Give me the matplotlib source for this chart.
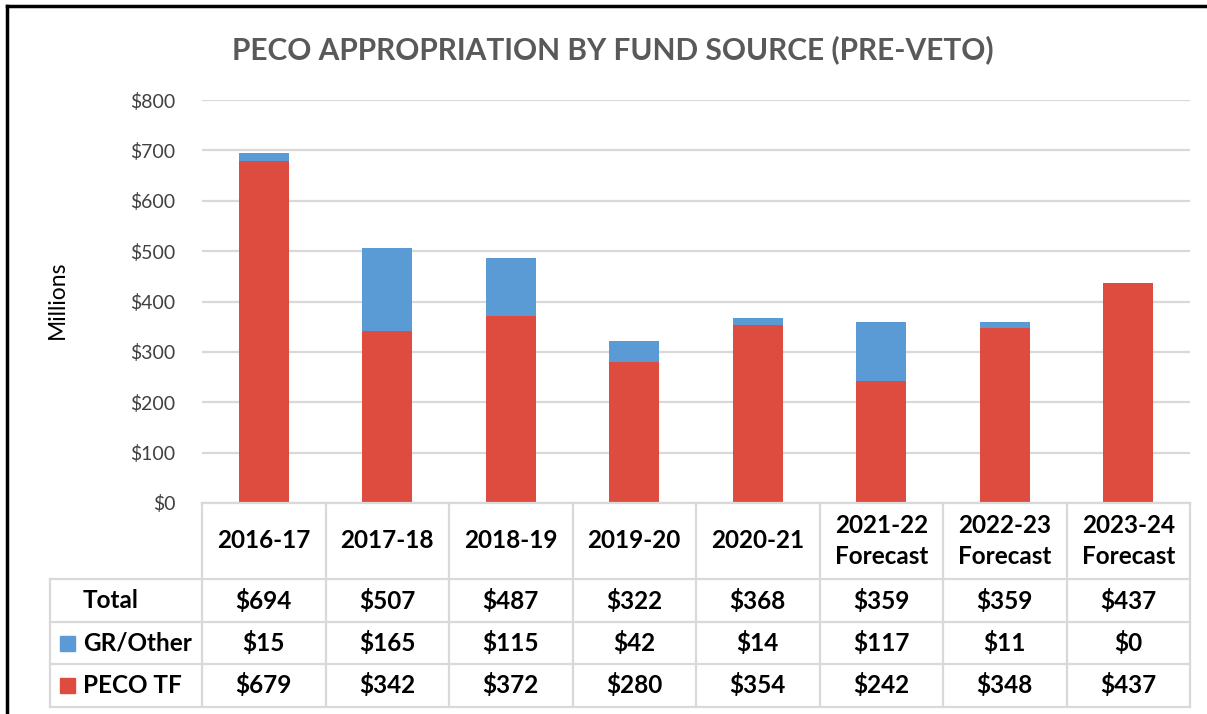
import matplotlib
matplotlib.use("Agg")
import matplotlib.pyplot as plt
from matplotlib.transforms import blended_transform_factory
from matplotlib.patches import Rectangle
from matplotlib.lines import Line2D

years = ["2016-17", "2017-18", "2018-19", "2019-20", "2020-21",
         "2021-22\nForecast", "2022-23\nForecast", "2023-24\nForecast"]
gr_other = [15, 165, 115, 42, 14, 117, 11, 0]
peco_tf = [679, 342, 372, 280, 354, 242, 348, 437]
totals = [694, 507, 487, 322, 368, 359, 359, 437]

RED = "#DE4B3F"
BLUE = "#5B9BD5"
GRID = "#D9D9D9"

plt.rcParams["font.family"] = ["Lato", "DejaVu Sans"]

W, H = 1207, 714
fig = plt.figure(figsize=(W / 100, H / 100), dpi=100)

def fx(px):
    return px / W

def fy(py):
    return 1 - py / H

ax = fig.add_axes([fx(202), fy(503), fx(1190) - fx(202), fy(100) - fy(503)])
x = list(range(len(years)))
ax.bar(x, peco_tf, width=0.405, color=RED, zorder=3)
ax.bar(x, gr_other, width=0.405, bottom=peco_tf, color=BLUE, zorder=3)

ax.set_xlim(-0.5, len(years) - 0.5)
ax.set_ylim(0, 800)
ax.set_yticks(range(0, 801, 100))
ax.set_yticklabels([f"${v}" for v in range(0, 801, 100)], color="#404040", fontsize=14)
ax.tick_params(axis="y", length=0, pad=19)
ax.set_xticks([])
ax.grid(axis="y", color=GRID, lw=1.6, zorder=0)
for s in ax.spines.values():
    s.set_visible(False)

fig.text(fx(57), fy(300), "Millions", rotation=90, ha="center", va="center", fontsize=16.5, color="black")
fig.text(fx(613), fy(50), "PECO APPROPRIATION BY FUND SOURCE (PRE-VETO)", ha="center", va="center",
         fontsize=21.5, fontweight="bold", color="#595959")

# data table under the bars
tr = blended_transform_factory(ax.transData, fig.transFigure)
rows_px = [503, 579, 622, 664, 707]
line_kw = dict(color=GRID, lw=1.6, clip_on=False)
n = len(years)
# horizontal lines
fig.add_artist(Line2D([fx(202), fx(1190)], [fy(rows_px[0])] * 2, **line_kw))
for r in rows_px[1:]:
    fig.add_artist(Line2D([fx(50), fx(1190)], [fy(r)] * 2, **line_kw))
# vertical lines
for i in range(n + 1):
    fig.add_artist(Line2D([i - 0.5, i - 0.5], [fy(rows_px[0]), fy(rows_px[-1])], transform=tr, **line_kw))
fig.add_artist(Line2D([fx(50), fx(50)], [fy(rows_px[1]), fy(rows_px[-1])], **line_kw))

txt_kw = dict(fontsize=17.5, fontweight="bold", color="black", va="center")
for i, yr in enumerate(years):
    fig.text(i, fy((rows_px[0] + rows_px[1]) / 2), yr, ha="center", transform=tr, linespacing=1.4, **txt_kw)

row_labels = ["Total", "GR/Other", "PECO TF"]
row_vals = [totals, gr_other, peco_tf]
row_colors = [None, BLUE, RED]
for k in range(3):
    yc = fy((rows_px[k + 1] + rows_px[k + 2]) / 2)
    fig.text(fx(83), yc, row_labels[k], ha="left", **txt_kw)
    if row_colors[k]:
        fig.add_artist(Rectangle((fx(60), yc - 7.5 / H), 15 / W, 15 / H, color=row_colors[k]))
    for i, v in enumerate(row_vals[k]):
        fig.text(i, yc, f"${v}", ha="center", transform=tr, **txt_kw)

# outer frame (left and top edges)
fig.add_artist(Line2D([fx(7), fx(7)], [fy(6), 0], color="black", lw=2.5))
fig.add_artist(Line2D([fx(7), 1], [fy(6), fy(6)], color="black", lw=2.5))

fig.savefig("out.png", dpi=100)
